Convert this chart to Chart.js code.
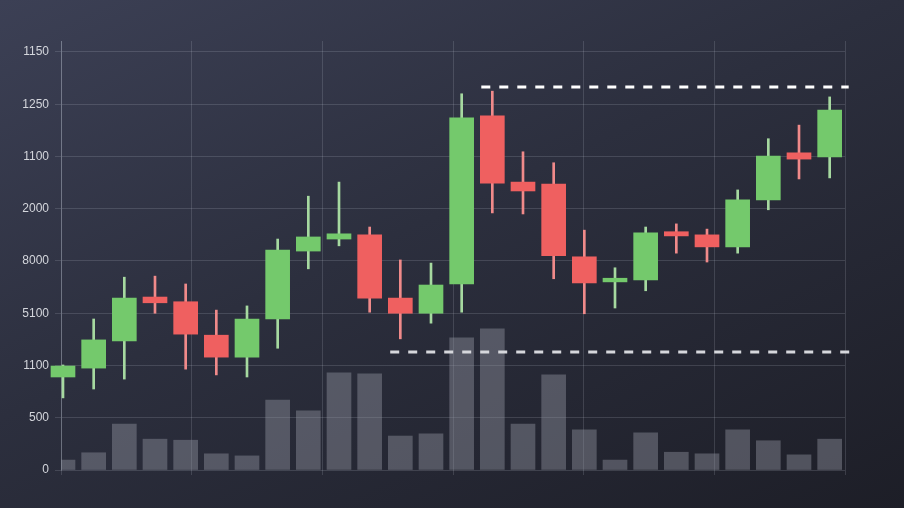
<!DOCTYPE html>
<html>
<head>
<meta charset="utf-8">
<script src="https://cdn.jsdelivr.net/npm/chart.js@4.4.1/dist/chart.umd.min.js"></script>
<style>
  html, body { margin: 0; padding: 0; }
  body {
    width: 904px; height: 508px; overflow: hidden;
    background: linear-gradient(155deg, #3c4055 0%, #2c2f3e 45%, #1d1e27 100%);
  }
  #wrap { position: relative; width: 904px; height: 508px; }
</style>
</head>
<body>
<div id="wrap"><canvas id="chart" width="904" height="508"></canvas></div>
<script>
// candles, left to right (values on the drawing scale of the y axis)
const opens  = [178, 195, 247, 331, 322, 258, 216, 289, 419, 442, 450, 329, 300, 356, 678, 551, 547, 408, 360, 364, 456, 450, 427, 517, 607, 599];
const closes = [199, 249, 329, 320, 260, 216, 289, 421, 446, 452, 329, 300, 354, 674, 549, 534, 410, 358, 367, 454, 448, 427, 517, 601, 595, 689];
const highs  = [201, 289, 369, 371, 356, 306, 314, 442, 524, 551, 465, 402, 396, 720, 725, 609, 588, 459, 387, 465, 471, 461, 536, 634, 660, 714];
const lows   = [138, 155, 174, 300, 193, 182, 178, 233, 385, 429, 302, 251, 281, 302, 492, 490, 366, 299, 310, 343, 415, 398, 415, 498, 557, 559];
const volumes = [19, 33, 88, 59, 57, 31, 27, 134, 113, 186, 184, 65, 69, 253, 270, 88, 182, 77, 19, 71, 34, 31, 77, 56, 29, 59];

// y tick labels from bottom to top
const yTickLabels = ['0', '500', '1100', '5100', '8000', '2000', '1100', '1250', '1150'];

// dashed levels
const resistance = 733;
const support = 226;

const green = '#74c96c';
const red = '#ef6060';
const greenWick = '#a6d9a0';
const redWick = '#f08a8a';

const bodies = [], wicks = [], vols = [], bodyColors = [], wickColors = [];
for (let i = 0; i < opens.length; i++) {
  const up = closes[i] >= opens[i];
  bodies.push({ x: i, y: [opens[i], closes[i]] });
  wicks.push({ x: i, y: [lows[i], highs[i]] });
  vols.push({ x: i, y: [0, volumes[i]] });
  bodyColors.push(up ? green : red);
  wickColors.push(up ? greenWick : redWick);
}

const xMin = -0.065, xMax = 25.5;
const gridColor = 'rgba(210,215,230,0.16)';

const config = {
  type: 'bar',
  data: {
    datasets: [
      {
        label: 'resistance',
        type: 'line',
        data: [{ x: 13.64, y: resistance }, { x: 25.62, y: resistance }],
        borderColor: '#ffffff',
        borderWidth: 3,
        borderDash: [9, 9],
        pointRadius: 0,
        clip: false,
        order: 0
      },
      {
        label: 'support',
        type: 'line',
        data: [{ x: 10.67, y: support }, { x: 25.65, y: support }],
        borderColor: '#d6d7dc',
        borderWidth: 3,
        borderDash: [9, 9],
        pointRadius: 0,
        clip: false,
        order: 1
      },
      {
        label: 'body',
        data: bodies,
        backgroundColor: bodyColors,
        barThickness: 24,
        grouped: false,
        clip: false,
        order: 2
      },
      {
        label: 'wick',
        data: wicks,
        backgroundColor: wickColors,
        barThickness: 2,
        grouped: false,
        order: 3
      },
      {
        label: 'volume',
        data: vols,
        backgroundColor: 'rgba(150,152,165,0.42)',
        barThickness: 24,
        grouped: false,
        order: 4
      }
    ]
  },
  options: {
    responsive: false,
    animation: false,
    layout: { padding: { left: 0, right: 59, top: 41, bottom: 0 } },
    plugins: { legend: { display: false }, tooltip: { enabled: false } },
    scales: {
      x: {
        type: 'linear',
        offset: false,
        min: xMin,
        max: xMax,
        afterBuildTicks: (scale) => {
          const t = [];
          for (let n = 0; n <= 6; n++) t.push({ value: xMin + n * (xMax - xMin) / 6 });
          scale.ticks = t;
        },
        afterFit: (scale) => { scale.height = 38; },
        ticks: { display: false },
        grid: { color: gridColor, tickLength: 5, tickColor: gridColor, offset: false },
        border: { display: false }
      },
      y: {
        min: 0,
        max: 821,
        afterBuildTicks: (scale) => {
          scale.ticks = yTickLabels.map((l, i) => ({ value: i * 100 }));
        },
        afterFit: (scale) => { scale.width = 61; },
        ticks: {
          color: '#d4d6dc',
          padding: 6,
          font: { family: 'Liberation Sans, Arial, sans-serif', size: 12 },
          callback: (v) => yTickLabels[Math.round(v / 100)]
        },
        grid: { color: gridColor, tickLength: 6, tickColor: gridColor },
        border: { color: 'rgba(210,215,230,0.28)' }
      }
    }
  }
};

let c = document.getElementById('chart').getContext('2d');
new Chart(c, config);
</script>
</body>
</html>
